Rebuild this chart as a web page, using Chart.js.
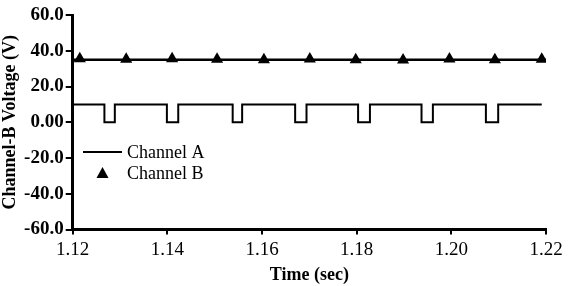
<!DOCTYPE html>
<html>
<head>
<meta charset="utf-8">
<script src="https://cdn.jsdelivr.net/npm/chart.js@4.4.0/dist/chart.umd.min.js"></script>
<style>
  html, body { margin: 0; padding: 0; background: #fff; }
  #wrap { width: 568px; height: 286px; }
</style>
</head>
<body>
<div id="wrap"><canvas id="myChart" width="568" height="286"></canvas></div>
<script>
// Channel A: square wave, times where the level changes
const timesA = [1.12, 1.1267, 1.1289, 1.1399, 1.1423, 1.1538, 1.1558, 1.1670, 1.1694,
  1.1803, 1.1828, 1.1937, 1.1961, 1.2073, 1.2099, 1.2191];
const voltsA = [10, 0, 10, 0, 10, 0, 10, 0, 10, 0, 10, 0, 10, 0, 10, 10];

// Channel B: triangle markers
const timesB = [1.1215, 1.1313, 1.1410, 1.1505, 1.1604, 1.1701, 1.1798, 1.1898, 1.1996, 1.2092, 1.2191];
const voltsB = [35.5, 35.3, 35.5, 35.2, 35.0, 35.4, 35.0, 34.8, 35.4, 35.0, 35.3];

// Channel B trace level
const levelTimes = [1.12, 1.22];
const levelVolts = [35, 35];

const xTicks = [1.12, 1.14, 1.16, 1.18, 1.20, 1.22];
const yTicks = [-60, -40, -20, 0, 20, 40, 60];

const toPoints = ( xs, ys ) => xs.map( ( x, i ) => ({ x, y: ys[i] }) );

const insideLegend = {
  id: 'insideLegend',
  afterDraw( chart ) {
    const ctx = chart.ctx;
    ctx.save();
    ctx.font = '18px "Liberation Serif"';
    ctx.fillStyle = '#000';
    ctx.textBaseline = 'middle';
    // Channel A
    ctx.strokeStyle = '#000';
    ctx.lineWidth = 2;
    ctx.beginPath();
    ctx.moveTo( 83, 152 );
    ctx.lineTo( 122, 152 );
    ctx.stroke();
    ctx.fillText( chart.data.datasets[0].label, 127, 153 );
    // Channel B
    ctx.beginPath();
    ctx.moveTo( 102.5, 167 );
    ctx.lineTo( 108.5, 178 );
    ctx.lineTo( 96.5, 178 );
    ctx.closePath();
    ctx.fill();
    ctx.fillText( chart.data.datasets[1].label, 127, 174 );
    ctx.restore();
  }
};

const data = {
  datasets: [
    {
      label: 'Channel A',
      data: toPoints( timesA, voltsA ),
      stepped: true,
      borderColor: '#000',
      borderWidth: 2,
      pointRadius: 0,
      fill: false
    },
    {
      label: 'Channel B',
      data: toPoints( timesB, voltsB ),
      showLine: false,
      pointStyle: 'triangle',
      pointRadius: 7,
      backgroundColor: '#000',
      borderColor: '#000',
      borderWidth: 0
    },
    {
      label: 'Channel B level',
      data: toPoints( levelTimes, levelVolts ),
      borderColor: '#000',
      borderWidth: 2.5,
      pointRadius: 0,
      fill: false
    }
  ]
};

const options = {
  animation: false,
  responsive: false,
  layout: {
    padding: { top: 15, right: 22, left: 0, bottom: 0 }
  },
  plugins: {
    legend: { display: false },
    tooltip: { enabled: false }
  },
  scales: {
    x: {
      type: 'linear',
      min: 1.12,
      max: 1.22,
      afterBuildTicks: axis => { axis.ticks = xTicks.map( v => ({ value: v }) ); },
      afterFit: axis => { axis.height = 56.5; },
      ticks: {
        color: '#000',
        padding: 4,
        maxRotation: 0,
        font: { family: '"Liberation Serif"', size: 19 },
        callback: v => v.toFixed( 2 )
      },
      grid: { drawOnChartArea: false, color: '#000', lineWidth: 2, tickLength: 5 },
      border: { color: '#000', width: 3 },
      title: {
        display: true,
        text: 'Time (sec)',
        color: '#000',
        padding: { top: 0, bottom: 0 },
        font: { family: '"Liberation Serif"', size: 18, weight: 'bold' }
      }
    },
    y: {
      min: -60,
      max: 60,
      afterBuildTicks: axis => { axis.ticks = yTicks.map( v => ({ value: v }) ); },
      afterFit: axis => { axis.width = 72.7; },
      ticks: {
        color: '#000',
        padding: 2,
        font: { family: '"Liberation Serif"', size: 19, weight: 'bold' },
        callback: v => v === 0 ? '0.00' : v.toFixed( 1 )
      },
      grid: { drawOnChartArea: false, color: '#000', lineWidth: 2, tickLength: 7 },
      border: { color: '#000', width: 3 },
      title: {
        display: true,
        text: 'Channel-B Voltage (V)',
        color: '#000',
        padding: { top: 0, bottom: 0 },
        font: { family: '"Liberation Serif"', size: 18, weight: 'bold' }
      }
    }
  }
};

new Chart( document.getElementById( 'myChart' ), {
  type: 'line',
  data,
  options,
  plugins: [ insideLegend ]
});
</script>
</body>
</html>
